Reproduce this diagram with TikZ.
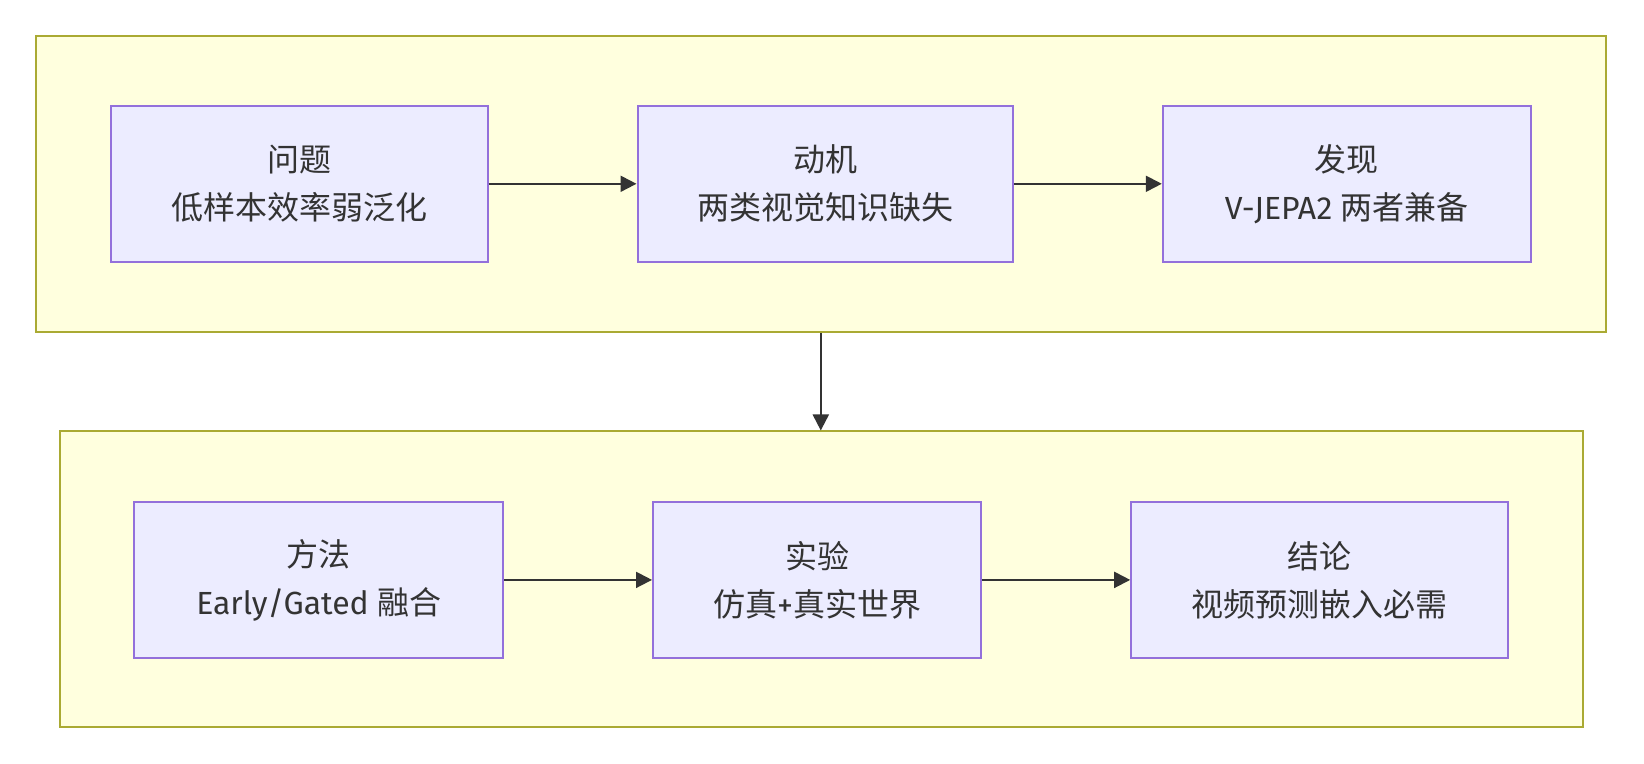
\documentclass[tikz,border=0pt]{standalone}
\usepackage{fontspec}
\setmainfont{Fira Sans}
\newfontfamily\cjk{Noto Sans CJK SC}
\usetikzlibrary{arrows.meta}
\definecolor{clfill}{HTML}{FFFFDE}
\definecolor{cldraw}{HTML}{AAAA33}
\definecolor{ndfill}{HTML}{ECECFF}
\definecolor{nddraw}{HTML}{9370DB}
\definecolor{txt}{HTML}{333333}
\tikzset{
  cluster/.style={draw=cldraw, fill=clfill, line width=1pt, rectangle, inner sep=0pt},
  stepbox/.style={draw=nddraw, fill=ndfill, line width=1pt, rectangle, inner sep=0pt,
    align=center, text=txt, font=\fontsize{16pt}{24pt}\selectfont, minimum height=77.8pt},
  arr/.style={draw=txt, line width=1pt, -{Triangle[length=8pt,width=8pt]}}
}
\begin{document}
\begin{tikzpicture}[x=0.5pt,y=-0.5pt]
\useasboundingbox[fill=white] (0,0) rectangle (1644,764);
% clusters
\node[cluster, minimum width=785.2pt, minimum height=148.2pt] (topcl) at (820.8,183.8) {};
\node[cluster, minimum width=761.6pt, minimum height=147.8pt] (botcl) at (821.4,579.3) {};
% top row
\node[stepbox, minimum width=188.3pt] (n1) at (299.3,183.8) {{\cjk 问题}\\{\cjk 低样本效率弱泛化}};
\node[stepbox, minimum width=187.9pt] (n2) at (825.4,183.8) {{\cjk 动机}\\{\cjk 两类视觉知识缺失}};
\node[stepbox, minimum width=184pt] (n3) at (1346.8,183.8) {{\cjk 发现}\\V-JEPA2 {\cjk 两者兼备}};
% bottom row
\node[stepbox, minimum width=184.5pt] (n4) at (318.8,579.9) {{\cjk 方法}\\Early/Gated {\cjk 融合}};
\node[stepbox, minimum width=164.2pt] (n5) at (817.2,579.9) {{\cjk 实验}\\{\cjk 仿真}+{\cjk 真实世界}};
\node[stepbox, minimum width=188.4pt] (n6) at (1319.6,579.9) {{\cjk 结论}\\{\cjk 视频预测嵌入必需}};
% connectors
\draw[arr] (n1) -- (n2);
\draw[arr] (n2) -- (n3);
\draw[arr] (n4) -- (n5);
\draw[arr] (n5) -- (n6);
\draw[arr] (topcl.south) -- (botcl.north -| topcl.south);
\end{tikzpicture}
\end{document}
